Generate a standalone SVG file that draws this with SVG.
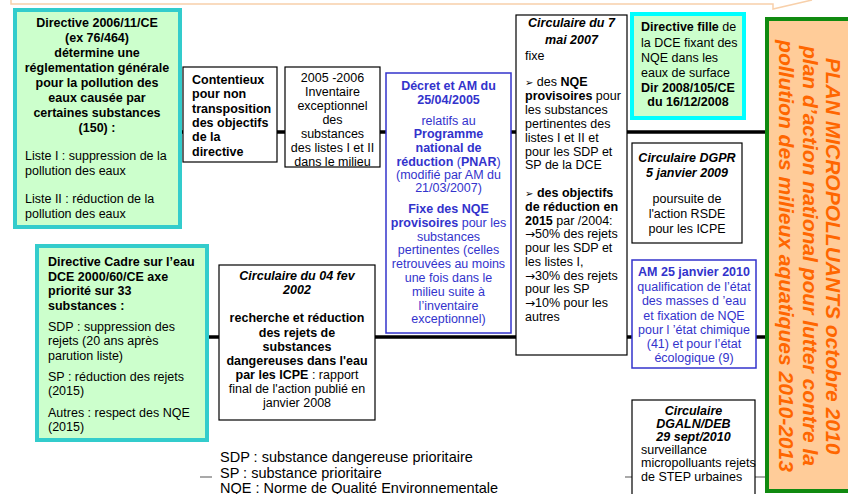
<svg xmlns="http://www.w3.org/2000/svg" width="848" height="494" viewBox="0 0 848 494">
<style>
text{font-family:"Liberation Sans",Arial,"DejaVu Sans",sans-serif;font-size:12.5px;fill:#000}
.b{font-weight:bold}
.i{font-style:italic}
.c{text-anchor:middle}
.blue{fill:#3333cc}
.green{fill:#ccffcc;stroke:#33cccc;stroke-width:4}
.cyan{fill:#ccffcc;stroke:#00ffff;stroke-width:4}
.plain{fill:#fff;stroke:#000;stroke-width:1.2}
.bluebox{fill:#fff;stroke:#3333cc;stroke-width:1.5}
.tl{stroke:#000;stroke-width:3.5;fill:none}
.thin{stroke:#555;stroke-width:1.2;fill:none}
.plan{font-size:21px;font-weight:bold;font-style:italic;fill:#ff6600;text-anchor:middle}
.leg{font-size:14.5px}
.sym{font-family:"DejaVu Sans",sans-serif;font-size:10px}
.arr{font-family:"DejaVu Sans",sans-serif;font-size:12px}
</style>
<rect width="848" height="494" fill="#fff"/>
<path d="M11 0 V4 H773 V9 L812 0" fill="none" stroke="#f8d0aa" stroke-width="1.5"/>

<g id="connectors">
<line class="tl" x1="180" y1="132" x2="765" y2="132"/>
<line class="tl" x1="207" y1="337" x2="765" y2="337"/>
<line class="thin" x1="200" y1="477" x2="765" y2="477"/>
</g>

<g id="directive-2006">
<rect class="green" x="15" y="10" width="165" height="217"/>
<text class="b c" x="97" y="27">Directive 2006/11/CE</text>
<text class="b c" x="97" y="42">(ex 76/464)</text>
<text class="b c" x="97" y="57">détermine une</text>
<text class="b c" x="97" y="72">réglementation générale</text>
<text class="b c" x="97" y="87">pour la pollution des</text>
<text class="b c" x="97" y="102">eaux causée par</text>
<text class="b c" x="97" y="117">certaines substances</text>
<text class="b c" x="97" y="132">(150) :</text>
<text x="25" y="160">Liste I : suppression de la</text>
<text x="25" y="175">pollution des eaux</text>
<text x="25" y="203">Liste II : réduction de la</text>
<text x="25" y="218">pollution des eaux</text>
</g>

<g id="contentieux">
<rect class="plain" x="183" y="67" width="94" height="95"/>
<text class="b" x="192" y="84">Contentieux</text>
<text class="b" x="192" y="98">pour non</text>
<text class="b" x="192" y="112.5">transposition</text>
<text class="b" x="192" y="127">des objectifs</text>
<text class="b" x="192" y="141">de la</text>
<text class="b" x="192" y="155.5">directive</text>
</g>

<g id="inventaire">
<rect class="plain" x="285" y="67" width="95" height="100"/>
<text class="c" x="332.5" y="82">2005 -2006</text>
<text class="c" x="332.5" y="96">Inventaire</text>
<text class="c" x="332.5" y="110">exceptionnel</text>
<text class="c" x="332.5" y="124">des</text>
<text class="c" x="332.5" y="138">substances</text>
<text class="c" x="332.5" y="152">des listes I et II</text>
<text class="c" x="332.5" y="166">dans le milieu</text>
</g>

<g id="decret">
<rect class="bluebox" x="386" y="73" width="125" height="260"/>
<text class="b c blue" x="448.5" y="90">Décret et AM  du</text>
<text class="b c blue" x="448.5" y="104">25/04/2005</text>
<text class="c blue" x="448.5" y="125">relatifs au</text>
<text class="b c blue" x="448.5" y="138">Programme</text>
<text class="b c blue" x="448.5" y="152">national de</text>
<text class="c blue" x="448.5" y="166"><tspan class="b">réduction</tspan> (<tspan class="b">PNAR</tspan>)</text>
<text class="c blue" x="448.5" y="179">(modifié par AM du</text>
<text class="c blue" x="448.5" y="192">21/03/2007)</text>
<text class="b c blue" x="448.5" y="213">Fixe des NQE</text>
<text class="c blue" x="448.5" y="227"><tspan class="b">provisoires</tspan> pour les</text>
<text class="c blue" x="448.5" y="241">substances</text>
<text class="c blue" x="448.5" y="254">pertinentes (celles</text>
<text class="c blue" x="448.5" y="268">retrouvées au moins</text>
<text class="c blue" x="448.5" y="282">une fois dans le</text>
<text class="c blue" x="448.5" y="296">milieu suite à</text>
<text class="c blue" x="448.5" y="310">l’inventaire</text>
<text class="c blue" x="448.5" y="323">exceptionnel)</text>
</g>

<g id="circulaire-2007">
<rect class="plain" x="516" y="15" width="111" height="340"/>
<text class="b i c" x="571.5" y="27">Circulaire du 7</text>
<text class="b i c" x="571.5" y="44">mai 2007</text>
<text x="525" y="60">fixe</text>
<text x="525" y="86"><tspan class="sym">➢</tspan> des <tspan class="b">NQE</tspan></text>
<text x="525" y="100"><tspan class="b">provisoires</tspan> pour</text>
<text x="525" y="114">les substances</text>
<text x="525" y="128">pertinentes des</text>
<text x="525" y="142">listes I et II et</text>
<text x="525" y="156">pour les SDP et</text>
<text x="525" y="169">SP de la DCE</text>
<text x="525" y="197"><tspan class="sym">➢</tspan> <tspan class="b">des objectifs</tspan></text>
<text class="b" x="525" y="211">de réduction en</text>
<text x="525" y="225"><tspan class="b">2015</tspan> par /2004:</text>
<text x="525" y="238"><tspan class="arr">→</tspan>50% des rejets</text>
<text x="525" y="252">pour les SDP et</text>
<text x="525" y="266">les listes I,</text>
<text x="525" y="280"><tspan class="arr">→</tspan>30% des rejets</text>
<text x="525" y="293">pour les SP</text>
<text x="525" y="307"><tspan class="arr">→</tspan>10% pour les</text>
<text x="525" y="321">autres</text>
</g>

<g id="directive-fille">
<rect class="cyan" x="632" y="14" width="112" height="104"/>
<text x="641" y="31"><tspan class="b">Directive fille</tspan> de</text>
<text x="641" y="47">la DCE fixant des</text>
<text x="641" y="62">NQE dans les</text>
<text x="641" y="77">eaux de surface</text>
<text class="b c" x="688" y="92">Dir 2008/105/CE</text>
<text class="b c" x="688" y="106">du 16/12/2008</text>
</g>

<g id="circulaire-dgpr">
<rect class="plain" x="632" y="143" width="110" height="100"/>
<text class="b i c" x="687" y="162">Circulaire DGPR</text>
<text class="b i c" x="687" y="177">5  janvier 2009</text>
<text class="c" x="687" y="203">poursuite de</text>
<text class="c" x="687" y="218">l'action RSDE</text>
<text class="c" x="687" y="233">pour les ICPE</text>
</g>

<g id="am-2010">
<rect class="bluebox" x="632" y="260" width="124" height="108"/>
<text class="b c blue" x="694" y="276">AM 25 janvier 2010</text>
<text class="c blue" x="694" y="291">qualification de l’état</text>
<text class="c blue" x="694" y="305">des masses d ’eau</text>
<text class="c blue" x="694" y="320">et fixation de NQE</text>
<text class="c blue" x="694" y="334">pour l ’état chimique</text>
<text class="c blue" x="694" y="348">(41) et pour l’état</text>
<text class="c blue" x="694" y="362">écologique (9)</text>
</g>

<g id="circulaire-dgaln">
<rect class="plain" x="632" y="400" width="123" height="100"/>
<text class="b i c" x="693.5" y="415">Circulaire</text>
<text class="b i c" x="693.5" y="428">DGALN/DEB</text>
<text class="b i c" x="693.5" y="441">29  sept/2010</text>
<text x="641" y="454">surveillance</text>
<text x="641" y="467">micropolluants rejets</text>
<text x="641" y="481">de STEP urbaines</text>
</g>

<g id="dce">
<rect class="green" x="37" y="246" width="170" height="194"/>
<text class="b" x="48" y="266">Directive Cadre sur l’eau</text>
<text class="b" x="48" y="281">DCE 2000/60/CE axe</text>
<text class="b" x="48" y="295">priorité sur 33</text>
<text class="b" x="48" y="310">substances :</text>
<text x="48" y="331">SDP : suppression des</text>
<text x="48" y="345">rejets (20 ans après</text>
<text x="48" y="360">parution liste)</text>
<text x="48" y="381">SP : réduction des rejets</text>
<text x="48" y="395">(2015)</text>
<text x="48" y="417">Autres : respect des NQE</text>
<text x="48" y="431">(2015)</text>
</g>

<g id="circulaire-2002">
<rect class="plain" x="219" y="265" width="156" height="155"/>
<text class="b i c" x="297" y="280">Circulaire du 04  fev</text>
<text class="b i c" x="297" y="294">2002</text>
<text class="b c" x="297" y="322">recherche et réduction</text>
<text class="b c" x="297" y="337">des rejets de</text>
<text class="b c" x="297" y="351">substances</text>
<text class="b c" x="297" y="365">dangereuses dans l'eau</text>
<text class="c" x="297" y="379"><tspan class="b">par les ICPE</tspan> : rapport</text>
<text class="c" x="297" y="393">final  de l'action publié en</text>
<text class="c" x="297" y="407">janvier 2008</text>
</g>

<g id="legende">
<rect x="212" y="444" width="413" height="50" fill="#fff"/>
<text class="leg" x="220" y="462">SDP : substance dangereuse prioritaire</text>
<text class="leg" x="220" y="478">SP : substance prioritaire</text>
<text class="leg" x="220" y="493">NQE : Norme de Qualité Environnementale</text>
</g>

<g id="plan">
<rect x="767" y="19" width="90" height="472" fill="#ffcc99" stroke="#108a10" stroke-width="4"/>
<g transform="translate(800,256) rotate(90)">
<text class="plan" x="0" y="-26">PLAN MICROPOLLUANTS  octobre 2010</text>
<text class="plan" x="0" y="-3">plan d’action national pour lutter contre la</text>
<text class="plan" x="0" y="21">pollution des milieux aquatiques  2010-2013</text>
</g>
</g>
</svg>
